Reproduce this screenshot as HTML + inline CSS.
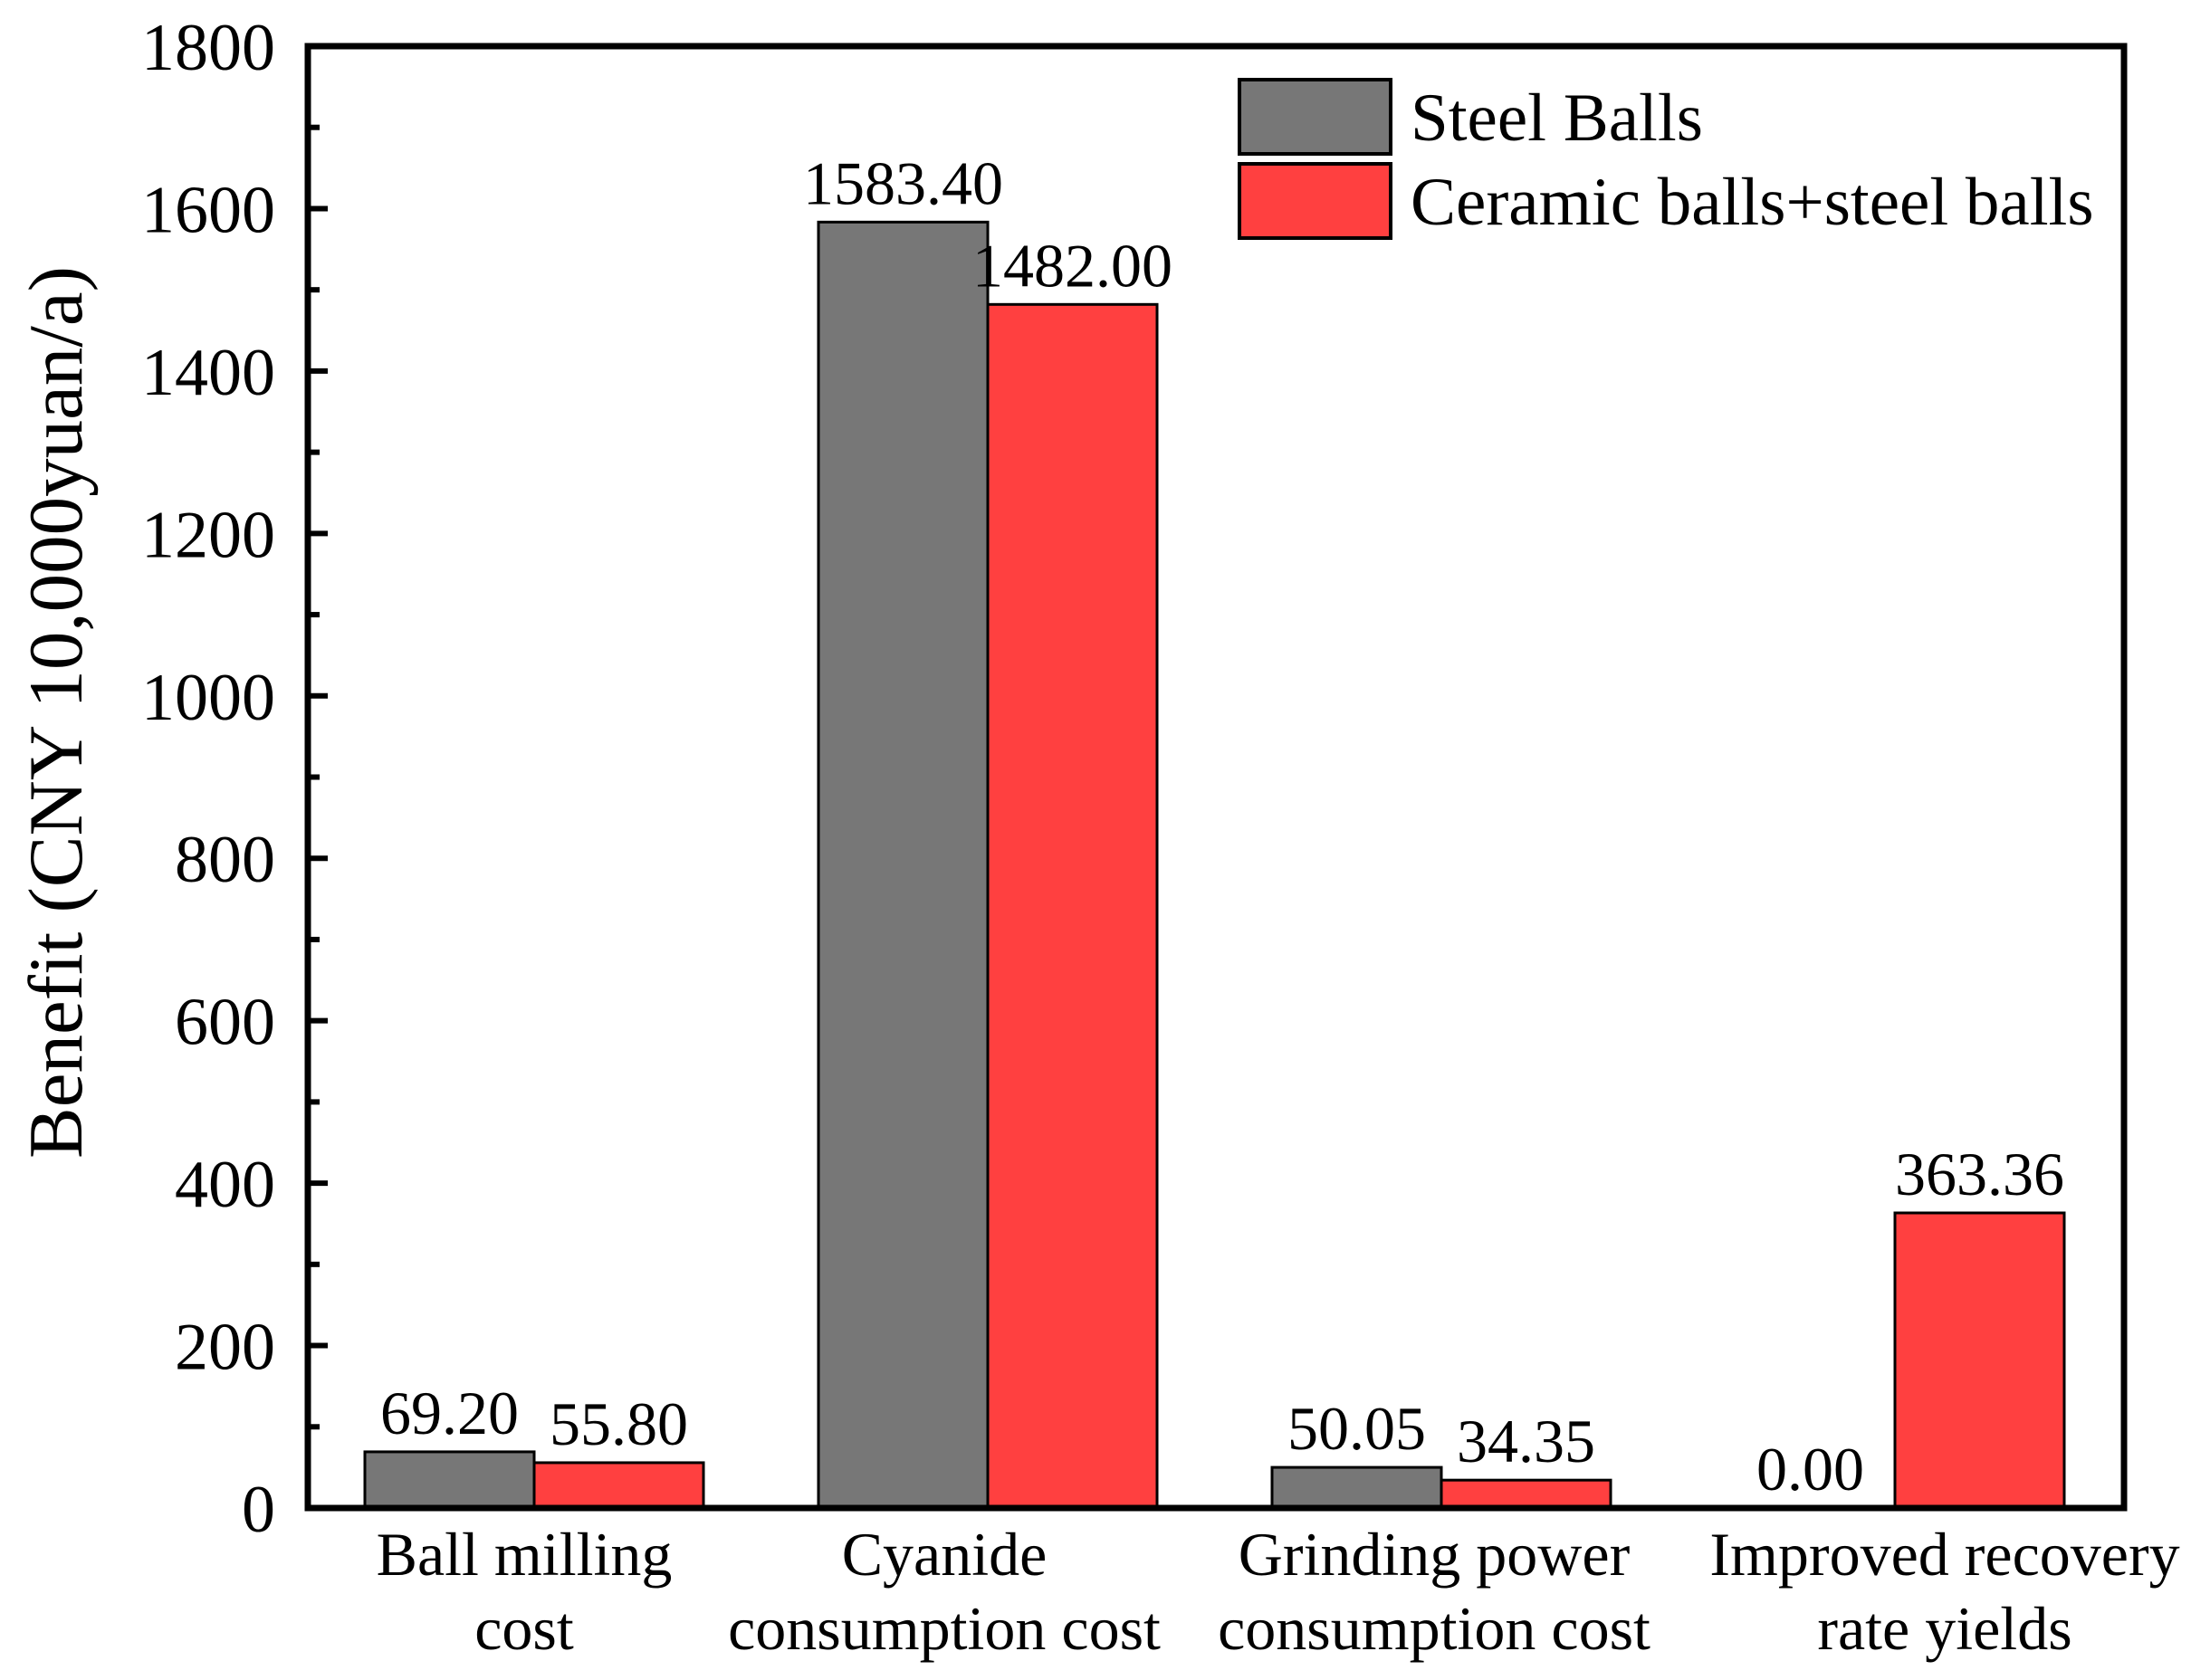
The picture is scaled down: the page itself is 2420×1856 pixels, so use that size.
<!DOCTYPE html>
<html><head><meta charset="utf-8"><style>
html,body{margin:0;padding:0;background:#fff;}
svg{display:block;font-family:"Liberation Serif",serif;}
</style></head><body>
<svg id="chart" width="2420" height="1856" viewBox="0 0 2420 1856" xmlns="http://www.w3.org/2000/svg">
<g id="plot"></g>
</svg>
<script>
const categories = [["Ball milling","cost"],["Cyanide","consumption cost"],["Grinding power","consumption cost"],["Improved recovery","rate yields"]];
const steelValues = [69.20, 1583.40, 50.05, 0.00];
const ceramicValues = [55.80, 1482.00, 34.35, 363.36];
const yTicks = [0,200,400,600,800,1000,1200,1400,1600,1800];
const seriesNames = ["Steel Balls","Ceramic balls+steel balls"];

const L=340,R=2346,T=51,B=1666,yMax=1800;
const labelShift=[-11,-48,-8,55];
const NS="http://www.w3.org/2000/svg";
const g=document.getElementById('plot');
function y(v){return B-(v/yMax)*(B-T);}
function xc(i){return 590+i*501;}
const bw=187;
function mk(tag,attrs,parent){const e=document.createElementNS(NS,tag);for(const k in attrs)e.setAttribute(k,attrs[k]);(parent||g).appendChild(e);return e;}
function txt(s,attrs){const e=mk('text',attrs);e.textContent=s;return e;}

[steelValues,ceramicValues].forEach((vals,si)=>{
  vals.forEach((v,i)=>{
    const x0=si===0?xc(i)-bw:xc(i);
    if(v>0){
      const r=mk('rect',{x:x0,y:y(v),width:bw,height:B-y(v),fill:si===0?'#777777':'#ff4040',stroke:'#000','stroke-width':3});
      
      
    }
    const t=txt(v.toFixed(2),{x:x0+bw/2,y:y(v)-20,'font-size':68,'text-anchor':'middle'});
    
    
  });
});

const f=mk('rect',{x:L,y:T,width:R-L,height:B-T,fill:'none',stroke:'#000','stroke-width':7});



yTicks.forEach((v,i)=>{
  const tk=mk('line',{x1:L,x2:L+22,y1:y(v),y2:y(v),stroke:'#000','stroke-width':6});
  
  
  if(i<yTicks.length-1){
    const mv=v+100;
    const mt=mk('line',{x1:L,x2:L+13,y1:y(mv),y2:y(mv),stroke:'#000','stroke-width':6});
    
    
  }
  const t=txt(String(v),{x:304,y:y(v)+26,'font-size':74,'text-anchor':'end'});
  
  
});

categories.forEach((c,i)=>{
  c.forEach((line,j)=>{
    const t=txt(line,{x:xc(i)+labelShift[i],y:1740+j*82,'font-size':68,'text-anchor':'middle'});
    
    
  });
});

const yt=txt("Benefit (CNY 10,000yuan/a)",{x:0,y:0,'font-size':85,'text-anchor':'middle',transform:'translate(90,787) rotate(-90)'});



seriesNames.forEach((n,i)=>{
  const r=mk('rect',{x:1369,y:88+i*93,width:167,height:82,fill:i===0?'#777777':'#ff4040',stroke:'#000','stroke-width':4});
  
  
  const t=txt(n,{x:1558,y:155+i*93,'font-size':75});
  
  
});
</script>
</body></html>
